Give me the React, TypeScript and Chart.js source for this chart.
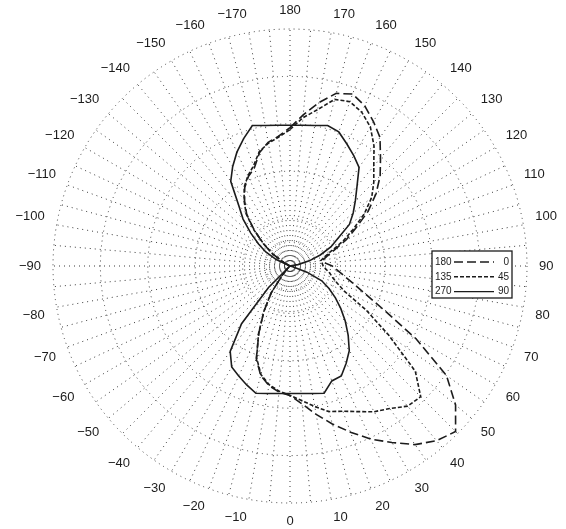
import React, { useEffect, useRef } from 'react';
import { Chart, registerables } from 'chart.js';

Chart.register(...registerables);

// Angle categories (degrees), clockwise from the top of the plot
const ANGLES = [
  180, 175, 170, 165, 160, 155, 150, 145, 140, 135, 130, 125, 120, 115, 110, 105, 100, 95,
  90, 85, 80, 75, 70, 65, 60, 55, 50, 45, 40, 35, 30, 25, 20, 15, 10, 5, 0,
  -5, -10, -15, -20, -25, -30, -35, -40, -45, -50, -55, -60, -65, -70, -75, -80, -85,
  -90, -95, -100, -105, -110, -115, -120, -125, -130, -135, -140, -145, -150, -155, -160,
  -165, -170, -175,
];

// Radial ring values
const RING_VALUES = [0, 5, 10, 20, 30, 40, 50];

// Series "180 — 0" (long dash)
const SERIES_180_0 = [
  29.2, 32.0, 35.0, 37.7, 38.6, 37.3, 35.2, 33.1, 29.7, 26.9, 23.7, 20.1, 16.1, 13.1, 10.0, 8.1, 7.0, 7.4,
  8.9, 10.0, 11.5, 13.6, 16.7, 21.8, 30.7, 40.3, 45.6, 49.4, 48.1, 46.0, 43.0, 40.3, 37.3, 34.5, 31.8, 29.2, 27.3,
  26.7, 25.6, 23.9, 20.8, 15.5, 11.0, 6.8, 2.5, 0.8,
  0, 0, 0, 0, 0, 0, 0, 0, 0, 0, 0, 0, 0, 0,
  1.5, 4.7, 7.4, 10.6, 14.2, 16.7, 19.1, 20.8, 22.0, 24.8, 26.5, 27.5,
];

// Series "135 — 45" (short dash)
const SERIES_135_45 = [
  28.8, 31.4, 33.5, 36.4, 36.9, 35.8, 33.9, 30.9, 27.5, 25.0, 22.5, 19.1, 15.3, 12.3, 9.3, 7.6, 6.6, 6.8,
  7.0, 7.6, 8.5, 9.3, 10.6, 12.7, 18.5, 25.4, 34.5, 39.0, 38.6, 36.7, 35.5, 33.9, 32.6, 31.8, 30.1, 28.5, 27.3,
  26.5, 25.4, 23.7, 20.6, 15.7, 11.0, 7.0, 2.5, 0.8,
  0, 0, 0, 0, 0, 0, 0, 0, 0, 0, 0, 0, 0, 0,
  1.5, 4.4, 7.2, 10.8, 14.4, 16.9, 19.3, 21.0, 22.5, 25.0, 26.3, 27.3,
];

// Series "270 — 90" (solid)
const SERIES_270_90 = [
  29.7, 29.8, 30.1, 30.7, 30.1, 28.4, 26.9, 25.4, 22.0, 19.5, 17.4, 15.3, 11.7, 9.5, 6.8, 4.2, 1.7, 0,
  0, 0, 0, 0.6, 3.8, 7.4, 9.5, 11.7, 14.0, 16.5, 19.1, 21.8, 23.7, 25.6, 25.8, 27.8, 27.3, 27.0, 26.9,
  27.0, 27.3, 27.8, 26.7, 25.6, 24.6, 22.0, 15.9, 6.4,
  0, 0, 0, 0, 0, 0, 0, 0, 0, 0, 0, 0, 0,
  3.2, 5.9, 8.1, 10.8, 14.0, 16.9, 21.8, 24.2, 26.5, 28.6, 30.7, 30.1, 29.8,
];

const LEGEND_LEFT = ['180', '135', '270'];
const LEGEND_RIGHT = ['0', '45', '90'];

const INK = '#1c1c1c';
const GRID = '#3a3a3a';

const formatAngle = (v: number) => (v < 0 ? '\u2212' + Math.abs(v) : String(v));

const keyPlugin = {
  id: 'lineStyleKey',
  afterDatasetsDraw(chart: any) {
    const scale = chart.scales.r;
    const ctx = chart.ctx as CanvasRenderingContext2D;
    const x0 = scale.xCenter + 142;
    const y0 = scale.yCenter - 15;
    const w = 80;
    const h = 47;
    ctx.save();
    ctx.fillStyle = '#ffffff';
    ctx.fillRect(x0, y0, w, h);
    ctx.setLineDash([]);
    ctx.strokeStyle = INK;
    ctx.lineWidth = 1.3;
    ctx.strokeRect(x0, y0, w, h);
    ctx.font = '10px "Liberation Sans", Arial, sans-serif';
    ctx.fillStyle = INK;
    ctx.textBaseline = 'middle';
    chart.data.datasets.forEach((ds: any, i: number) => {
      const y = y0 + 11 + i * 14.8;
      ctx.textAlign = 'left';
      ctx.fillText(LEGEND_LEFT[i], x0 + 3, y);
      ctx.textAlign = 'right';
      ctx.fillText(LEGEND_RIGHT[i], x0 + w - 3, y);
      ctx.beginPath();
      ctx.setLineDash(ds.borderDash || []);
      ctx.lineWidth = 1.4;
      ctx.moveTo(x0 + 22, y);
      ctx.lineTo(x0 + 62, y);
      ctx.stroke();
      ctx.setLineDash([]);
    });
    ctx.restore();
  },
};

export default function App() {
  const canvasRef = useRef<HTMLCanvasElement | null>(null);

  useEffect(() => {
    if (!canvasRef.current) return;
    const common = {
      borderColor: INK,
      borderWidth: 1.6,
      fill: false,
      pointRadius: 0,
      tension: 0,
    };
    const chart = new Chart(canvasRef.current, {
      type: 'radar',
      data: {
        labels: ANGLES.map(String),
        datasets: [
          { ...common, label: '180-0', data: SERIES_180_0, borderDash: [9, 4] },
          { ...common, label: '135-45', data: SERIES_135_45, borderDash: [4, 2] },
          { ...common, label: '270-90', data: SERIES_270_90, borderDash: [] },
        ],
      },
      options: {
        responsive: false,
        animation: false,
        layout: { padding: { left: 8, top: 4, right: 0, bottom: 0 } },
        plugins: {
          legend: { display: false },
          tooltip: { enabled: false },
        },
        scales: {
          r: {
            min: 0,
            max: 50,
            afterBuildTicks: (scale: any) => {
              scale.ticks = RING_VALUES.map((v) => ({ value: v }));
            },
            ticks: { display: false },
            grid: { circular: true, color: GRID, lineWidth: 1 },
            border: { dash: [1, 4] },
            angleLines: { display: true, color: GRID, lineWidth: 1, borderDash: [1, 4] },
            pointLabels: {
              display: true,
              color: INK,
              padding: 12,
              font: { family: '"Liberation Sans", Arial, sans-serif', size: 13, lineHeight: 1.0 },
              callback: (label: string) => {
                const v = Number(label);
                return v % 10 === 0 ? formatAngle(v) : '';
              },
            },
          },
        },
      },
      plugins: [keyPlugin],
    } as any);
    return () => chart.destroy();
  }, []);

  return (
    <div style={{ position: 'fixed', left: 0, top: 0, width: 566, height: 529, background: '#fff' }}>
      <canvas ref={canvasRef} width={566} height={529} />
    </div>
  );
}
